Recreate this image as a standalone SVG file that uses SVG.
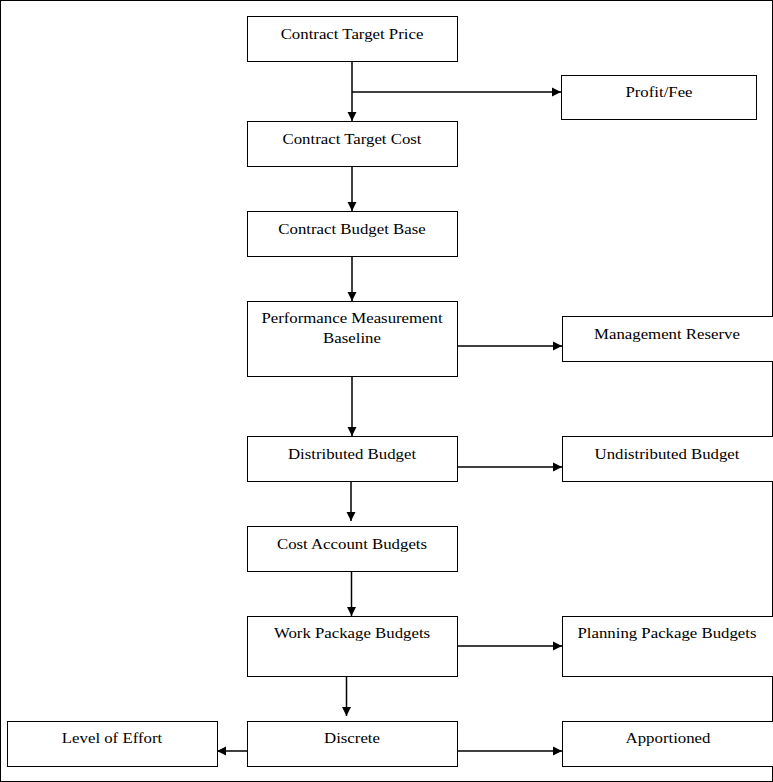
<svg xmlns="http://www.w3.org/2000/svg" width="773" height="782" viewBox="0 0 773 782">
<style>
.box{fill:#fff;stroke:#000;stroke-width:1}
.t{font-family:"Liberation Serif","Times New Roman",serif;font-size:15px;fill:#000;text-anchor:middle}
.c{stroke:#000;stroke-width:1.5;fill:none;marker-end:url(#ah)}
</style>
<defs>
<marker id="ah" markerWidth="10" markerHeight="10" refX="9" refY="5" orient="auto" markerUnits="userSpaceOnUse">
<path d="M0,0.5 L9,5 L0,9.5 Z" fill="#000"/>
</marker>
</defs>
<rect x="0.5" y="0.5" width="772" height="781" fill="#fff" stroke="#000" stroke-width="1"/>
<g id="connectors">
<path class="c" d="M352,61 V121"/>
<path class="c" d="M352,92 H561"/>
<path class="c" d="M352,166 V211"/>
<path class="c" d="M352,256 V301"/>
<path class="c" d="M352,376 V436"/>
<path class="c" d="M457,346 H562"/>
<path class="c" d="M457,467 H562"/>
<path class="c" d="M351,481 V521"/>
<path class="c" d="M351.5,571 V616"/>
<path class="c" d="M457,646 H562"/>
<path class="c" d="M346.5,676 V716"/>
<path class="c" d="M457,751 H562"/>
<path class="c" d="M247,751 H217"/>
</g>
<g id="contract-target-price"><rect class="box" x="247.5" y="16.5" width="210" height="45"/><text class="t" transform="translate(352,39) scale(1.12,1)">Contract Target Price</text></g>
<g id="profit-fee"><rect class="box" x="561.5" y="75.5" width="195" height="44"/><text class="t" transform="translate(659,97) scale(1.12,1)">Profit/Fee</text></g>
<g id="contract-target-cost"><rect class="box" x="247.5" y="121.5" width="210" height="45"/><text class="t" transform="translate(352,144) scale(1.12,1)">Contract Target Cost</text></g>
<g id="contract-budget-base"><rect class="box" x="247.5" y="211.5" width="210" height="45"/><text class="t" transform="translate(352,234) scale(1.12,1)">Contract Budget Base</text></g>
<g id="pmb"><rect class="box" x="247.5" y="301.5" width="210" height="75"/><text class="t" transform="translate(352,323) scale(1.12,1)">Performance Measurement</text><text class="t" transform="translate(352,343) scale(1.12,1)">Baseline</text></g>
<g id="management-reserve"><rect class="box" x="562.5" y="316.5" width="212" height="45"/><text class="t" transform="translate(667,339) scale(1.12,1)">Management Reserve</text></g>
<g id="distributed-budget"><rect class="box" x="247.5" y="436.5" width="210" height="45"/><text class="t" transform="translate(352,459) scale(1.12,1)">Distributed Budget</text></g>
<g id="undistributed-budget"><rect class="box" x="562.5" y="436.5" width="212" height="45"/><text class="t" transform="translate(667,459) scale(1.12,1)">Undistributed Budget</text></g>
<g id="cost-account-budgets"><rect class="box" x="247.5" y="526.5" width="210" height="45"/><text class="t" transform="translate(352,549) scale(1.12,1)">Cost Account Budgets</text></g>
<g id="work-package-budgets"><rect class="box" x="247.5" y="616.5" width="210" height="60"/><text class="t" transform="translate(352,638) scale(1.12,1)">Work Package Budgets</text></g>
<g id="planning-package-budgets"><rect class="box" x="562.5" y="616.5" width="212" height="60"/><text class="t" transform="translate(667,638) scale(1.12,1)">Planning Package Budgets</text></g>
<g id="level-of-effort"><rect class="box" x="7.5" y="721.5" width="210" height="45"/><text class="t" transform="translate(112,743) scale(1.12,1)">Level of Effort</text></g>
<g id="discrete"><rect class="box" x="247.5" y="721.5" width="210" height="45"/><text class="t" transform="translate(352,743) scale(1.12,1)">Discrete</text></g>
<g id="apportioned"><rect class="box" x="562.5" y="721.5" width="212" height="45"/><text class="t" transform="translate(668,743) scale(1.12,1)">Apportioned</text></g>
</svg>
